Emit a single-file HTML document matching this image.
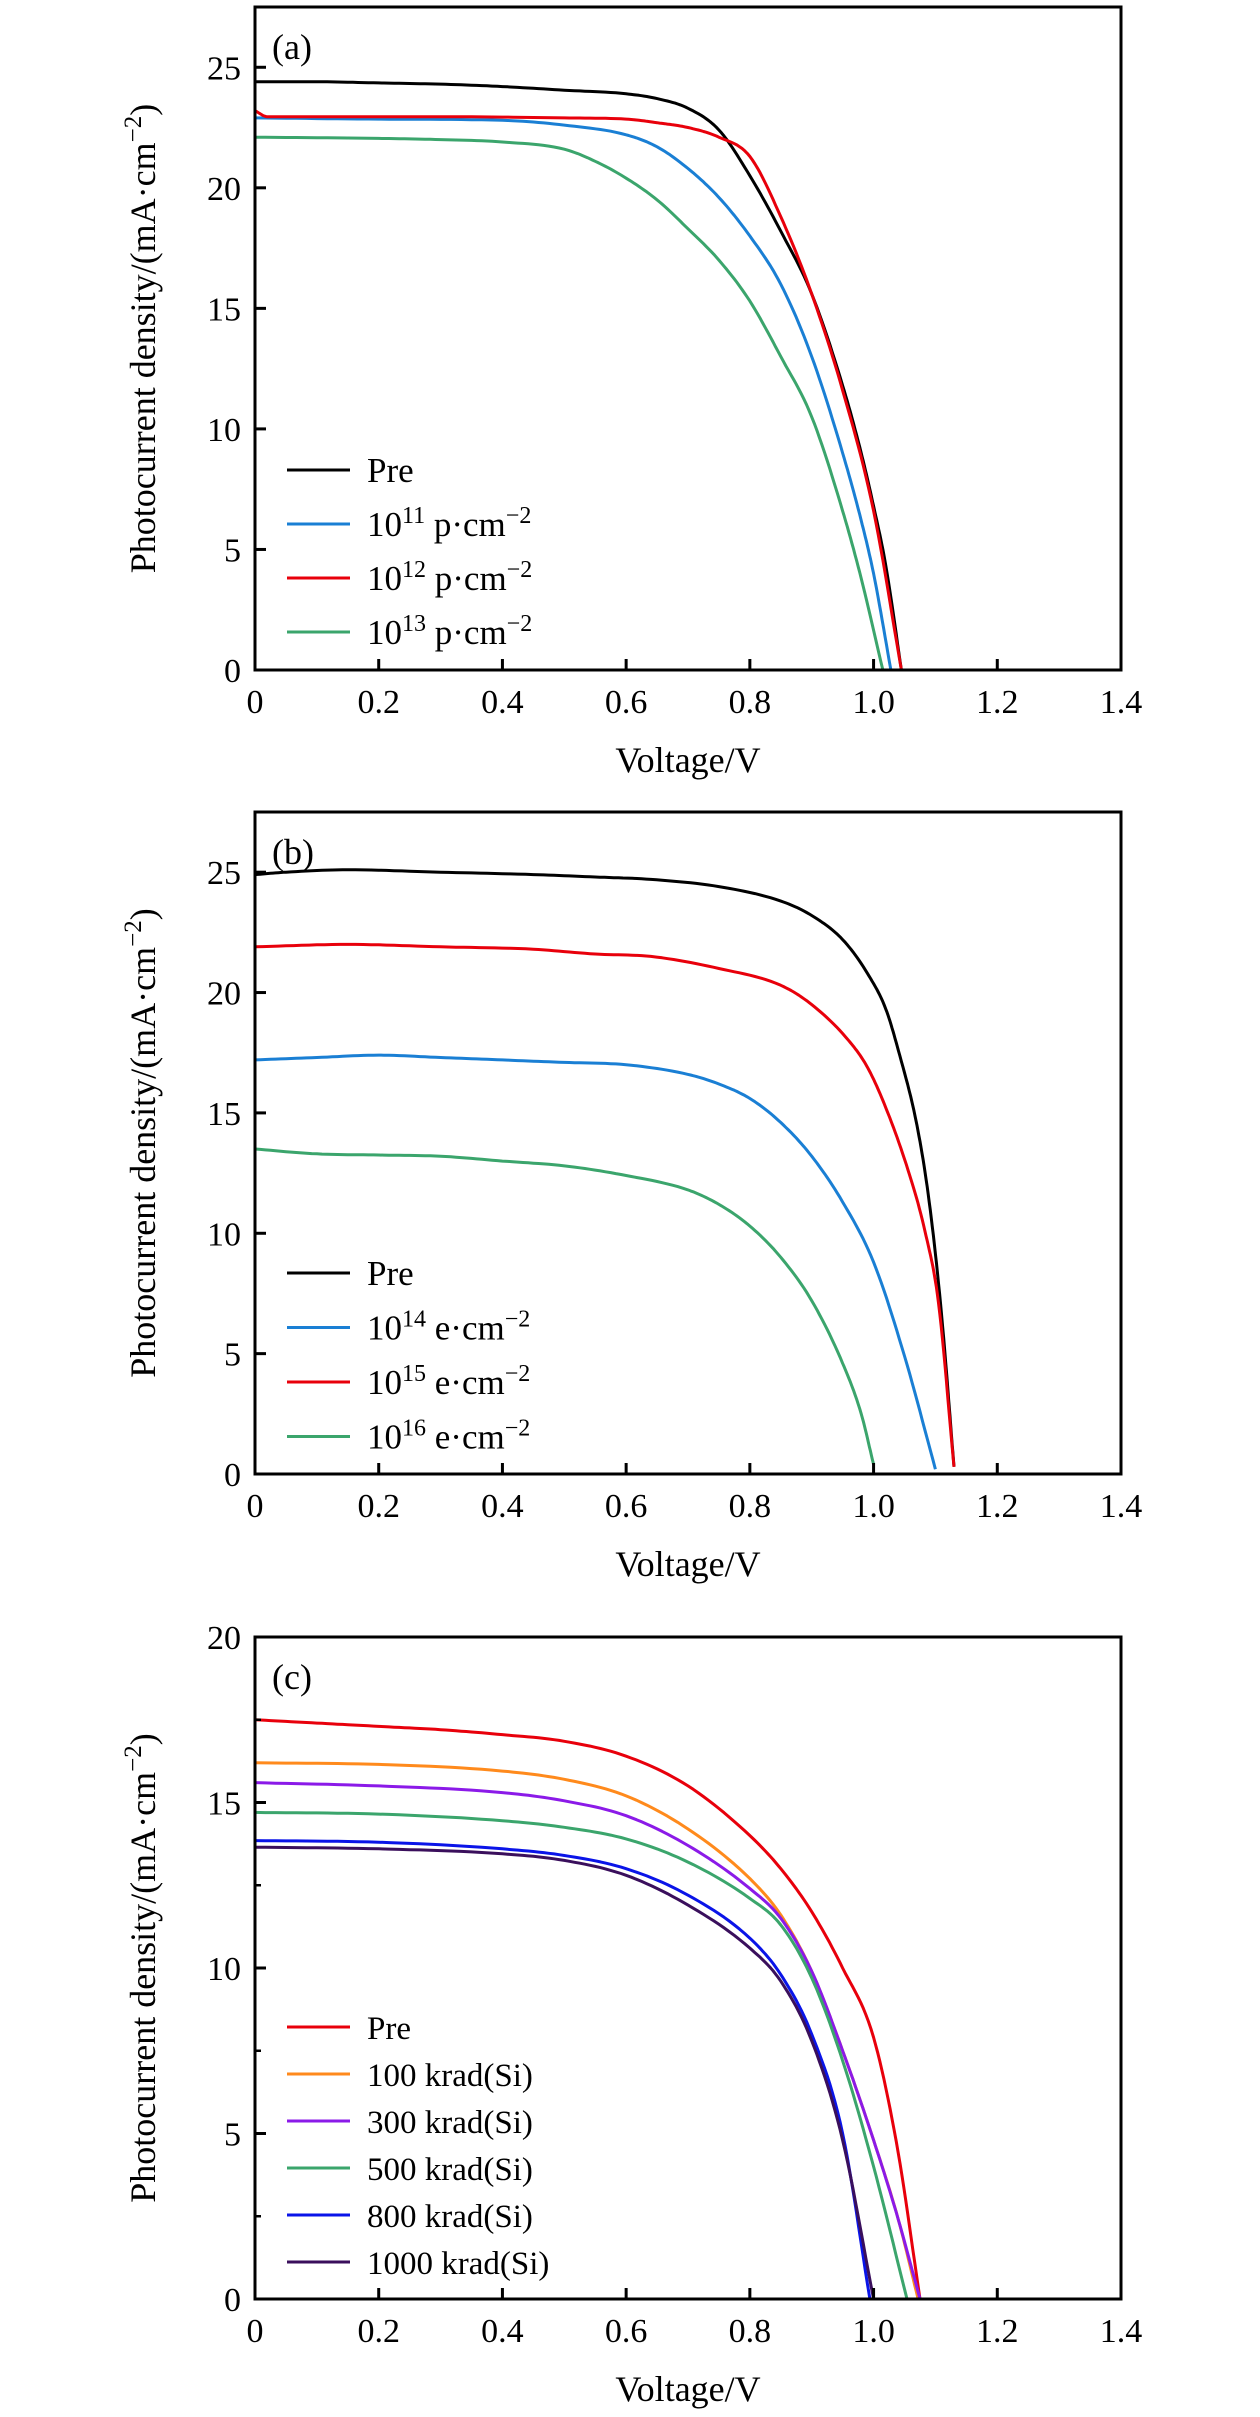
<!DOCTYPE html>
<html><head><meta charset="utf-8">
<style>
html,body{margin:0;padding:0;background:#fff;}
svg{display:block;font-family:"Liberation Serif",serif;}
</style></head>
<body>
<svg id="fig" width="1260" height="2417" viewBox="0 0 1260 2417" xmlns="http://www.w3.org/2000/svg"></svg>
<script>
// ---------- Panel (a) data: proton irradiation ----------
const aV_pre = [0,0.1,0.2,0.3,0.4,0.5,0.6,0.65,0.7,0.75,0.8,0.85,0.9,0.95,0.98,1.0,1.02,1.045];
const aJ_pre = [24.4,24.4,24.35,24.3,24.2,24.05,23.9,23.7,23.3,22.4,20.5,18.2,15.6,11.8,9.0,6.8,4.3,0];
const aV_11 = [0,0.2,0.4,0.5,0.6,0.65,0.7,0.75,0.8,0.85,0.9,0.95,0.98,1.0,1.028];
const aJ_11 = [22.9,22.85,22.8,22.6,22.2,21.7,20.8,19.6,18.0,16.0,13.0,9.0,6.2,4.0,0];
const aV_12 = [0,0.02,0.3,0.5,0.6,0.65,0.7,0.75,0.8,0.85,0.9,0.95,1.0,1.045];
const aJ_12 = [23.2,22.95,22.95,22.9,22.85,22.7,22.5,22.1,21.3,18.8,15.6,11.6,6.6,0];
const aV_13 = [0,0.2,0.3,0.4,0.5,0.55,0.6,0.65,0.7,0.75,0.8,0.85,0.9,0.95,0.98,1.015];
const aJ_13 = [22.1,22.05,22.0,21.9,21.6,21.1,20.4,19.5,18.3,17.0,15.3,13.0,10.5,6.6,3.8,0];
// ---------- Panel (b) data: electron irradiation ----------
const bV_pre = [0,0.05,0.15,0.3,0.45,0.55,0.64,0.75,0.85,0.9,0.95,0.99,1.02,1.04,1.07,1.09,1.11,1.13];
const bJ_pre = [24.9,25.0,25.1,25.0,24.9,24.8,24.7,24.4,23.8,23.2,22.2,20.8,19.3,17.6,14.5,11.3,6.6,0.3];
const bV_14 = [0,0.1,0.2,0.3,0.4,0.5,0.6,0.7,0.75,0.8,0.85,0.9,0.95,1.0,1.05,1.1];
const bJ_14 = [17.2,17.3,17.4,17.3,17.2,17.1,17.0,16.6,16.2,15.6,14.6,13.2,11.3,8.8,4.9,0.2];
const bV_15 = [0,0.15,0.3,0.45,0.55,0.64,0.75,0.85,0.9,0.96,0.99,1.02,1.056,1.083,1.105,1.13];
const bJ_15 = [21.9,22.0,21.9,21.8,21.6,21.5,21.0,20.3,19.5,18.0,16.9,15.2,12.6,10.1,7.1,0.3];
const bV_16 = [0,0.1,0.2,0.3,0.4,0.5,0.6,0.7,0.75,0.8,0.85,0.9,0.95,0.98,1.0];
const bJ_16 = [13.5,13.3,13.25,13.2,13.0,12.8,12.4,11.8,11.2,10.3,9.0,7.2,4.6,2.5,0.4];
// ---------- Panel (c) data: gamma irradiation ----------
const cV_pre = [0,0.1,0.2,0.3,0.4,0.5,0.6,0.7,0.8,0.85,0.9,0.95,1.0,1.04,1.075];
const cJ_pre = [17.5,17.4,17.3,17.2,17.05,16.85,16.4,15.5,14.0,13.0,11.7,10.0,7.9,4.4,0];
const cV_100 = [0,0.2,0.4,0.5,0.6,0.7,0.8,0.85,0.9,0.95,1.0,1.04,1.072];
const cJ_100 = [16.2,16.15,15.95,15.7,15.2,14.2,12.7,11.6,9.9,7.5,4.8,2.4,0];
const cV_300 = [0,0.2,0.4,0.5,0.6,0.7,0.8,0.85,0.9,0.95,1.0,1.04,1.075];
const cJ_300 = [15.6,15.5,15.3,15.05,14.6,13.7,12.4,11.5,9.9,7.5,4.8,2.4,0];
const cV_500 = [0,0.2,0.4,0.5,0.6,0.7,0.8,0.85,0.9,0.95,1.0,1.054];
const cJ_500 = [14.7,14.65,14.45,14.25,13.9,13.2,12.1,11.3,9.7,7.2,4.0,0];
const cV_800 = [0,0.2,0.4,0.5,0.6,0.7,0.8,0.85,0.9,0.95,0.994];
const cJ_800 = [13.85,13.8,13.6,13.4,13.0,12.2,10.9,9.8,8.0,5.0,0];
const cV_1000 = [0,0.2,0.4,0.5,0.6,0.7,0.8,0.85,0.9,0.95,1.0];
const cJ_1000 = [13.65,13.6,13.45,13.25,12.8,11.9,10.6,9.6,7.8,4.8,0];
const xTicks = [0,0.2,0.4,0.6,0.8,1.0,1.2,1.4];
const xTickLabels = ["0","0.2","0.4","0.6","0.8","1.0","1.2","1.4"];
const yTicksAB = [0,5,10,15,20,25];
const yTicksC = [0,5,10,15,20];

const NS = "http://www.w3.org/2000/svg";
const svg = document.getElementById('fig');
function mk(tag, attrs, parent){const e=document.createElementNS(NS,tag);for(const k in attrs)e.setAttribute(k,attrs[k]);(parent||svg).appendChild(e);return e;}
// monotone cubic interpolation (Fritsch-Carlson) sampled densely
function monotone(xs, ys){
  const n=xs.length, d=[], m=new Array(n);
  for(let i=0;i<n-1;i++) d.push((ys[i+1]-ys[i])/(xs[i+1]-xs[i]));
  m[0]=d[0]; m[n-1]=d[n-2];
  for(let i=1;i<n-1;i++){ m[i]=(d[i-1]*d[i]<=0)?0:(d[i-1]+d[i])/2; }
  for(let i=0;i<n-1;i++){
    if(d[i]===0){m[i]=0;m[i+1]=0;continue;}
    const a=m[i]/d[i], b=m[i+1]/d[i], s=a*a+b*b;
    if(s>9){const t=3/Math.sqrt(s); m[i]=t*a*d[i]; m[i+1]=t*b*d[i];}
  }
  const out=[];
  for(let i=0;i<n-1;i++){
    const h=xs[i+1]-xs[i], steps=12;
    for(let k=0;k<steps;k++){
      const t=k/steps, t2=t*t, t3=t2*t;
      const y=(2*t3-3*t2+1)*ys[i]+(t3-2*t2+t)*h*m[i]+(-2*t3+3*t2)*ys[i+1]+(t3-t2)*h*m[i+1];
      out.push([xs[i]+t*h,y]);
    }
  }
  out.push([xs[n-1],ys[n-1]]);
  return out;
}
const L=255,R=1121;
function panel(cfg){
  const g=mk('g',{});
  
  
  const T=cfg.T,B=cfg.B;
  const sx=v=>L+(v/1.4)*(R-L);
  const sy=j=>B-(j/cfg.ymax)*(B-T);
  cfg.series.forEach(s=>{
    const pts=monotone(s.v,s.j).map(p=>sx(p[0]).toFixed(1)+","+sy(p[1]).toFixed(1));
    const p=mk('polyline',{points:pts.join(" "),fill:'none',stroke:s.color,'stroke-width':3,'stroke-linejoin':'round'},g);
    
    
  });
  const fr=mk('rect',{x:L,y:T,width:R-L,height:B-T,fill:'none',stroke:'#000','stroke-width':3},g);
  
  
  xTicks.forEach((v,i)=>{
    mk('line',{x1:sx(v),x2:sx(v),y1:B,y2:B-11,stroke:'#000','stroke-width':3},g);
    const t=mk('text',{x:sx(v),y:B+43,'text-anchor':'middle','font-size':34},g);
    t.textContent=xTickLabels[i];
    
    
  });
  cfg.yticks.forEach(v=>{
    mk('line',{x1:L,x2:L+11,y1:sy(v),y2:sy(v),stroke:'#000','stroke-width':3},g);
    const t=mk('text',{x:241,y:sy(v)+12,'text-anchor':'end','font-size':34},g);
    t.textContent=String(v);
    
    
  });
  (cfg.minor||[]).forEach(v=>{
    mk('line',{x1:L,x2:L+6,y1:sy(v),y2:sy(v),stroke:'#000','stroke-width':2.5},g);
  });
  const xl=mk('text',{x:(L+R)/2,y:B+102,'text-anchor':'middle','font-size':36},g);
  xl.textContent='Voltage/V';
  
  
  const yc=(T+B)/2;
  const yl=mk('text',{x:0,y:0,'text-anchor':'middle','font-size':36,transform:`translate(155,${yc}) rotate(-90)`},g);
  yl.innerHTML='Photocurrent density/(mA·cm<tspan dy="-14" font-size="25">−2</tspan><tspan dy="14">)</tspan>';
  
  
  const pl=mk('text',{x:272,y:T+52,'font-size':36},g);
  pl.textContent=cfg.label;
  
  
  cfg.series.forEach((s,i)=>{
    const y=cfg.legY+i*cfg.legDy;
    const lg=mk('g',{},g);
    
    
    mk('line',{x1:287,x2:350,y1:y,y2:y,stroke:s.color,'stroke-width':3},lg);
    const t=mk('text',{x:367,y:y+12,'font-size':cfg.legFont},lg);
    t.innerHTML=s.label;
  });
}
const sup=(b,e,u)=>`${b}<tspan dy="-13" font-size="24">${e}</tspan><tspan dy="13"> ${u}·cm</tspan><tspan dy="-13" font-size="24">−2</tspan>`;
panel({name:'panel-a',T:7,B:670,ymax:27.5,yticks:yTicksAB,label:'(a)',legY:470,legDy:54,legFont:35,series:[
 {id:'line-pre',v:aV_pre,j:aJ_pre,color:'#000000',label:'Pre'},
 {id:'line-1e11',v:aV_11,j:aJ_11,color:'#1a7fd4',label:sup('10','11','p')},
 {id:'line-1e12',v:aV_12,j:aJ_12,color:'#e8000b',label:sup('10','12','p')},
 {id:'line-1e13',v:aV_13,j:aJ_13,color:'#3ba56c',label:sup('10','13','p')}]});
panel({name:'panel-b',T:812,B:1474,ymax:27.5,yticks:yTicksAB,label:'(b)',legY:1273,legDy:54.5,legFont:35,series:[
 {id:'line-pre',v:bV_pre,j:bJ_pre,color:'#000000',label:'Pre'},
 {id:'line-1e14',v:bV_14,j:bJ_14,color:'#1a7fd4',label:sup('10','14','e')},
 {id:'line-1e15',v:bV_15,j:bJ_15,color:'#e8000b',label:sup('10','15','e')},
 {id:'line-1e16',v:bV_16,j:bJ_16,color:'#3ba56c',label:sup('10','16','e')}]});
panel({name:'panel-c',T:1637,B:2299,ymax:20,yticks:yTicksC,minor:[2.5,7.5,12.5,17.5],label:'(c)',legY:2027,legDy:47,legFont:33,series:[
 {id:'line-pre',v:cV_pre,j:cJ_pre,color:'#e8000b',label:'Pre'},
 {id:'line-100krad',v:cV_100,j:cJ_100,color:'#ff8a1c',label:'100 krad(Si)'},
 {id:'line-300krad',v:cV_300,j:cJ_300,color:'#8b1ae8',label:'300 krad(Si)'},
 {id:'line-500krad',v:cV_500,j:cJ_500,color:'#3ba56c',label:'500 krad(Si)'},
 {id:'line-800krad',v:cV_800,j:cJ_800,color:'#0a14e8',label:'800 krad(Si)'},
 {id:'line-1000krad',v:cV_1000,j:cJ_1000,color:'#3a0f5c',label:'1000 krad(Si)'}]});
</script>
</body></html>
